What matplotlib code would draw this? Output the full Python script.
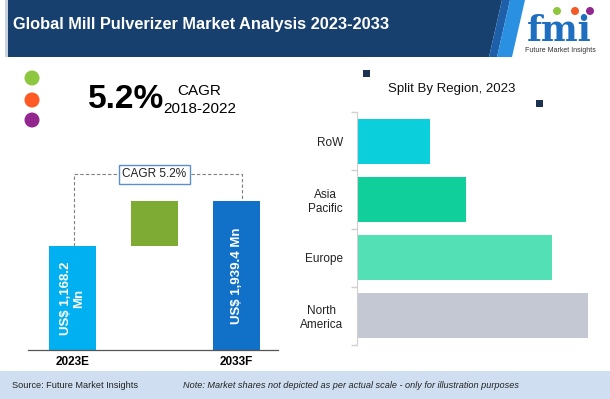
"""Global Mill Pulverizer market infographic, 2023-2033."""

import matplotlib.pyplot as plt
from matplotlib.patches import Circle, Polygon, Rectangle

W, H = 610, 399

# headline data
title = "Global Mill Pulverizer Market Analysis 2023-2033"
hist_cagr = "5.2%"
hist_period = "2018-2022"
fcst_cagr = "CAGR 5.2%"

years = ["2023E", "2033F"]
market_values = [1168.2, 1939.4]  # US$ Mn
value_labels = ["US$ 1,168.2\nMn", "US$ 1,939.4 Mn"]
bar_heights = [1.0, 1.43]  # illustrative heights, not to scale

regions = ["North\nAmerica", "Europe", "Asia\nPacific", "RoW"]
region_share = [38.0, 32.1, 17.9, 12.0]
region_colors = ["#c3c8d3", "#53e0b5", "#10cf9a", "#0bcfda"]

SANS = ["Liberation Sans", "DejaVu Sans"]


def rect(x0, y0, x1, y1):
    """Pixel box (top-left origin) -> figure fraction rect."""
    return [x0 / W, 1 - y1 / H, (x1 - x0) / W, (y1 - y0) / H]


fig = plt.figure(figsize=(W / 100, H / 100), dpi=100)

# ---- background layer: header, footer, decorations
bg = fig.add_axes([0, 0, 1, 1], zorder=-1)
bg.set_xlim(0, W)
bg.set_ylim(H, 0)
bg.axis("off")

bg.add_patch(Rectangle((5, 0), 3, 57, color="#c9d2de", lw=0))
bg.add_patch(Polygon([(8, 0), (502, 0), (489, 57), (8, 57)], color="#17406e", lw=0))
bg.add_patch(Polygon([(502, 0), (510, 0), (497, 57), (489, 57)], color="#1d5fa8", lw=0))
bg.add_patch(Polygon([(510, 0), (525, 0), (512, 57), (497, 57)], color="#2a90e2", lw=0))
bg.text(13, 25, title, color="white", fontsize=11.8, fontweight="bold",
        family=SANS, va="center", ha="left")

# logo
bg.text(559, 31, "fmi", color="#1f6fc0", fontsize=25, fontweight="bold",
        family="DejaVu Serif", ha="center", va="center")
for yy in range(20, 44, 4):
    bg.plot([523, 603], [yy, yy], color="white", lw=0.8)
for cx, c in [(557, "#8dc63f"), (575, "#f15a24"), (590, "#92278f")]:
    bg.add_patch(Circle((cx, 11), 4, color=c, lw=0))
bg.text(560, 50, "Future Market Insights", fontsize=5, color="#333333",
        family=SANS, ha="center", va="center")

# left dots and historic CAGR
for cy, c in [(78, "#8dc63f"), (100, "#ff5a26"), (120, "#93278f")]:
    bg.add_patch(Circle((32, cy), 7.5, color=c, lw=0))
bg.text(126, 100, hist_cagr, fontsize=24, fontweight="bold", family=SANS,
        ha="center", va="center", color="black")
bg.text(199, 91, "CAGR", fontsize=11, family=SANS, ha="center", va="center")
bg.text(200, 109, hist_period, fontsize=11, family=SANS, ha="center", va="center")

# region title and markers
bg.text(452, 89, "Split By Region, 2023", fontsize=9.5, family=SANS,
        ha="center", va="center", color="#111111")
bg.add_patch(Rectangle((363, 70), 7, 7, color="#1b3350", lw=0))
bg.add_patch(Rectangle((536, 100), 7, 7, color="#1b3350", lw=0))

# footer
bg.add_patch(Rectangle((0, 371), W, 28, color="#cfdff1", lw=0))
bg.text(12, 385, "Source: Future Market Insights", fontsize=6.6, family=SANS,
        ha="left", va="center", color="#222222")
bg.text(183, 385, "Note: Market shares not depicted as per actual scale - only for illustration purposes",
        fontsize=6.6, family=SANS, style="italic", ha="left", va="center", color="#222222")

# ---- market size bars
ax = fig.add_axes(rect(28, 160, 278, 350))
pos = [0, 2]
ax.bar(pos[0], bar_heights[0], width=0.57, color="#00b0f0")
ax.bar(1, bar_heights[1] - bar_heights[0], bottom=bar_heights[0], width=0.57, color="#7dab33")
ax.bar(pos[1], bar_heights[1], width=0.57, color="#1170c8")
ax.set_xlim(-0.543, 2.506)
ax.set_ylim(0, 1.827)

for p, h, lab in zip(pos, bar_heights, value_labels):
    ax.text(p, h / 2, lab, rotation=90, color="white", fontsize=9.5, fontweight="bold",
            family=SANS, ha="center", va="center", multialignment="center")

top = 1.69
ax.plot([0.02, 0.02, 2.07, 2.07], [bar_heights[0], top, top, bar_heights[1]],
        ls=(0, (3, 2)), color="#7f7f7f", lw=0.8)
ax.text(1.0, top, fcst_cagr, fontsize=8.5, family=SANS, ha="center", va="center",
        color="#222222",
        bbox=dict(boxstyle="square,pad=0.3", fc="white", ec="#5b8fc7", lw=1))

ax.set_xticks(pos)
ax.set_xticklabels(years, fontsize=8.5, fontweight="bold", family=SANS)
ax.tick_params(axis="x", length=0, pad=4)
ax.set_yticks([])
for s in ["top", "right", "left"]:
    ax.spines[s].set_visible(False)
ax.spines["bottom"].set_color("#555555")
ax.spines["bottom"].set_linewidth(0.9)

# ---- regional split
rx = fig.add_axes(rect(357, 112, 600, 345))
ypos = range(len(regions))
rx.barh(list(ypos), region_share, height=0.77, color=region_colors)
rx.set_xlim(0, 40)
rx.set_ylim(-0.5, 3.5)
rx.set_yticks(list(ypos))
rx.set_yticklabels(regions, fontsize=8.5, family=SANS, color="#222222")
for t in rx.get_yticklabels():
    t.set_multialignment("center")
rx.set_yticks([-0.5, 0.5, 1.5, 2.5, 3.5], minor=True)
rx.tick_params(axis="y", which="major", length=0, pad=10)
rx.tick_params(axis="y", which="minor", length=4, color="#d0d0d0", width=1)
rx.set_xticks([])
for s in ["top", "right", "bottom"]:
    rx.spines[s].set_visible(False)
rx.spines["left"].set_color("#d0d0d0")

fig.savefig("out.png", dpi=100)
